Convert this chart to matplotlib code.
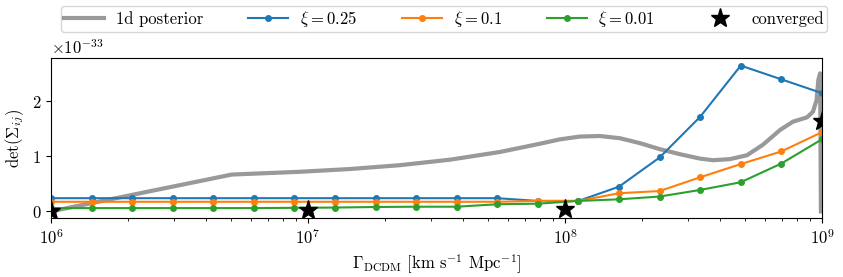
import numpy as np
import matplotlib
matplotlib.use("Agg")
import matplotlib.pyplot as plt

plt.rcParams["font.family"] = "serif"
plt.rcParams["font.serif"] = ["cmr10"]
plt.rcParams["mathtext.fontset"] = "cm"
plt.rcParams["axes.formatter.use_mathtext"] = True
plt.rcParams["font.size"] = 12

#sample points of the scan (log10 of Gamma)
log_gamma = np.linspace(6, 9, 20)

#det(Sigma) in units of 1e-33
det_025 = [0.24, 0.24, 0.24, 0.24, 0.24, 0.24, 0.24, 0.24, 0.24, 0.24,
           0.24, 0.24, 0.19, 0.19, 0.45, 0.98, 1.72, 2.65, 2.40, 2.15]
det_01 = [0.175, 0.175, 0.175, 0.175, 0.175, 0.175, 0.175, 0.175, 0.175, 0.175,
          0.175, 0.175, 0.19, 0.19, 0.33, 0.37, 0.62, 0.86, 1.09, 1.44]
det_001 = [0.06, 0.06, 0.06, 0.06, 0.06, 0.06, 0.065, 0.07, 0.08, 0.085,
           0.085, 0.13, 0.14, 0.19, 0.22, 0.27, 0.39, 0.53, 0.87, 1.31]

post_log = [6.0, 6.704, 6.969, 7.163, 7.358, 7.553, 7.747, 7.903, 7.981, 8.058,
            8.136, 8.214, 8.292, 8.37, 8.447, 8.525, 8.576, 8.642, 8.708, 8.77,
            8.837, 8.887, 8.942, 8.965, 8.979, 8.986, 8.993, 8.996]
post_val = [0.0, 0.67, 0.72, 0.77, 0.84, 0.94, 1.08, 1.23, 1.31, 1.36,
            1.37, 1.33, 1.24, 1.13, 1.04, 0.96, 0.93, 0.95, 1.02, 1.21,
            1.48, 1.63, 1.71, 1.81, 2.02, 2.39, 2.51, 0.0]

#converged points
conv_log = [6, 7, 8, 9]
conv_val = [0.0, 0.02, 0.04, 1.65]

scale = 1e-33

fig = plt.figure(figsize=(8.43, 2.77), dpi=100)
ax = fig.add_axes([0.0605, 0.213, 0.9145, 0.578])

ax.plot(10**np.array(post_log), np.array(post_val)*scale, color="0.6", lw=3, label="1d posterior")
ax.plot(10**log_gamma, np.array(det_025)*scale, "-o", color="C0", ms=4, lw=1.5, label=r"$\xi = 0.25$")
ax.plot(10**log_gamma, np.array(det_01)*scale, "-o", color="C1", ms=4, lw=1.5, label=r"$\xi = 0.1$")
ax.plot(10**log_gamma, np.array(det_001)*scale, "-o", color="C2", ms=4, lw=1.5, label=r"$\xi = 0.01$")
ax.plot(10**np.array(conv_log), np.array(conv_val)*scale, "*", color="k", ms=14, ls="none", label="converged")

ax.set_xscale("log")
ax.set_xlim(1e6, 1e9)
ax.set_ylim(-0.12e-33, 2.79e-33)
ax.set_yticks([0, 1e-33, 2e-33])
ax.set_xlabel(r"$\Gamma_{\rm DCDM}$ [km s$^{-1}$ Mpc$^{-1}$]", labelpad=4)
ax.set_ylabel(r"$\det(\Sigma_{ij})$")

ax.legend(loc="lower center", bbox_to_anchor=(0.51, 1.16), ncol=5, frameon=True,
          handlelength=2.4, handletextpad=0.7, columnspacing=2.7, borderaxespad=0,
          borderpad=0.2, fontsize=12)

fig.savefig("out.png", dpi=100)
